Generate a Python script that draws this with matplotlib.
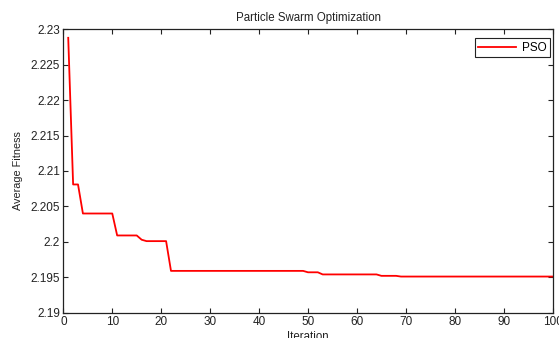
import matplotlib
matplotlib.use("Agg")
import matplotlib.pyplot as plt
from matplotlib.ticker import FuncFormatter

iterations = list(range(1, 101))
fitness = (
    [2.2288, 2.2081, 2.2081]
    + [2.2040] * 7            # 4-10
    + [2.2009] * 5            # 11-15
    + [2.2003]                # 16
    + [2.2001] * 5            # 17-21
    + [2.1959] * 28           # 22-49
    + [2.1957] * 3            # 50-52
    + [2.1954] * 12           # 53-64
    + [2.1952] * 4            # 65-68
    + [2.1951] * 32           # 69-100
)

xticks = [0, 10, 20, 30, 40, 50, 60, 70, 80, 90, 100]
yticks = [2.19, 2.195, 2.2, 2.205, 2.21, 2.215, 2.22, 2.225, 2.23]

plt.rcParams['font.family'] = ['Liberation Sans', 'DejaVu Sans']

fig = plt.figure(figsize=(5.59, 3.38), dpi=100)
ax = fig.add_axes([0.1133, 0.0749, 0.8754, 0.8384])
ax.plot(iterations, fitness, color='#ff0000', lw=1.3, label='PSO')
ax.set_xlim(0, 100)
ax.set_ylim(2.19, 2.23)
ax.set_xticks(xticks)
ax.set_yticks(yticks)
ax.yaxis.set_major_formatter(FuncFormatter(lambda v, p: f"{v:g}"))
ax.tick_params(direction='in', length=3.5, width=0.8, top=True, right=True,
               labelsize=8.5, pad=2.5, colors='#222222')
for s in ax.spines.values():
    s.set_linewidth(0.9)
    s.set_color('#222222')
ax.set_title('Particle Swarm Optimization', fontsize=8.3, pad=6, color='#222222')
ax.set_xlabel('Iteration', fontsize=8.3, labelpad=2, color='#222222')
ax.set_ylabel('Average Fitness', fontsize=7.8, labelpad=5, color='#222222')
leg = ax.legend(loc='upper right', bbox_to_anchor=(0.9945, 0.968),
                fontsize=8.5, fancybox=False, framealpha=1,
                edgecolor='#222222', handlelength=3.2, borderpad=0.3,
                borderaxespad=0.0, handletextpad=0.5)
leg.get_frame().set_linewidth(0.8)

fig.savefig('out.png', dpi=100)
